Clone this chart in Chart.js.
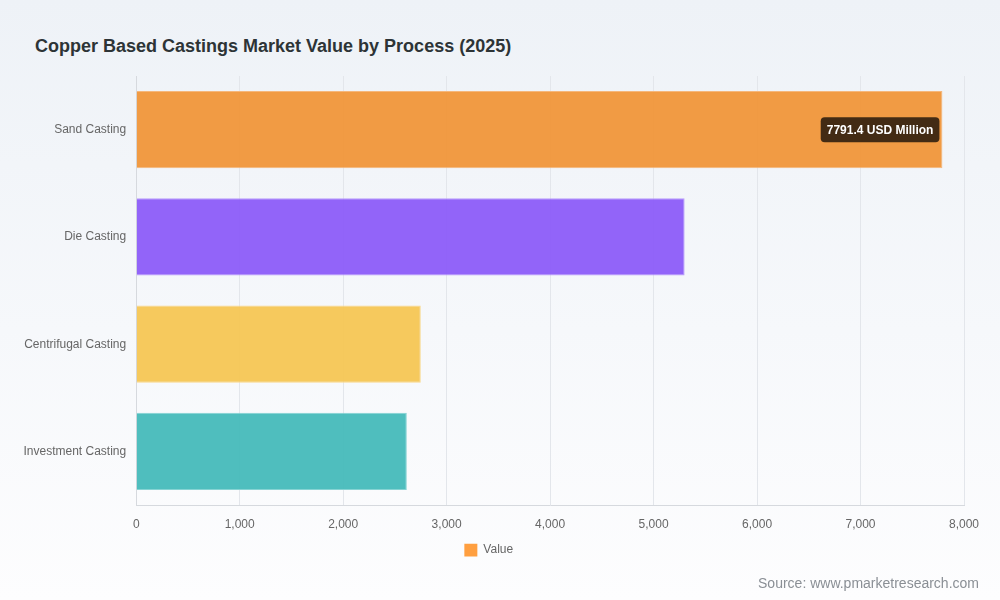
<!DOCTYPE html>
<html>
<head>
<meta charset="utf-8">
<script src="https://cdn.jsdelivr.net/npm/chart.js@4.4.1/dist/chart.umd.min.js"></script>
<style>
  html, body { margin: 0; padding: 0; }
  body {
    width: 1000px;
    height: 600px;
    position: relative;
    overflow: hidden;
    background: linear-gradient(180deg, #eef2f7 0%, #f6f8fb 55%, #fdfdfe 100%);
    font-family: "Liberation Sans", Arial, sans-serif;
  }
  #title {
    position: absolute;
    left: 35px;
    top: 36px;
    font-size: 18px;
    font-weight: bold;
    color: #2d3436;
  }
  #source {
    position: absolute;
    right: 21px;
    top: 575px;
    font-size: 14px;
    color: #8a8f95;
  }
  #wrap { position: absolute; left: 0; top: 0; width: 1000px; height: 600px; }
</style>
</head>
<body>
<div id="title">Copper Based Castings Market Value by Process (2025)</div>
<div id="wrap"><canvas id="chart"></canvas></div>
<div id="source">Source: www.pmarketresearch.com</div>
<script>
// categories and values (USD Million)
const processes = ["Sand Casting", "Die Casting", "Centrifugal Casting", "Investment Casting"];
const marketValues = [7791.4, 5300, 2750, 2615];
const xTicks = [0, 1000, 2000, 3000, 4000, 5000, 6000, 7000, 8000];

const barColors = ["rgba(240,150,58,0.95)", "rgba(140,92,249,0.95)", "rgba(246,198,84,0.95)", "rgba(70,186,186,0.95)"];
const barBorders = ["#f5b77c", "#b99cfb", "#f9d88a", "#86d3d3"];

// label on the largest bar, drawn at the element position
const valueLabel = {
  id: "valueLabel",
  afterDatasetsDraw(chart) {
    const meta = chart.getDatasetMeta(0);
    const data = chart.data.datasets[0].data;
    const maxIdx = data.indexOf(Math.max(...data));
    const bar = meta.data[maxIdx];
    if (!bar) return;
    const ctx = chart.ctx;
    const text = data[maxIdx] + " USD Million";
    ctx.save();
    ctx.font = "bold 12px 'Liberation Sans', Arial, sans-serif";
    const w = ctx.measureText(text).width + 12;
    const h = 25;
    const right = bar.x - 3;
    const left = right - w;
    const top = bar.y - h / 2;
    ctx.fillStyle = "rgba(58,38,18,0.95)";
    ctx.beginPath();
    ctx.roundRect(left, top, w, h, 4);
    ctx.fill();
    ctx.fillStyle = "#ffffff";
    ctx.textBaseline = "middle";
    ctx.textAlign = "left";
    ctx.fillText(text, left + 6, bar.y + 1);
    ctx.restore();
  },
};

new Chart(document.getElementById("chart"), {
  type: "bar",
  data: {
    labels: processes,
    datasets: [
      {
        label: "Value",
        data: marketValues,
        backgroundColor: barColors,
        borderColor: barBorders,
        borderWidth: 1,
      },
    ],
  },
  options: {
    indexAxis: "y",
    responsive: true,
    maintainAspectRatio: false,
    animation: false,
    layout: {
      padding: { top: 76, right: 36, bottom: 33.5, left: 13.5 },
    },
    plugins: {
      title: { display: false },
      tooltip: { enabled: false },
      legend: {
        display: true,
        position: "bottom",
        labels: {
          boxWidth: 13,
          boxHeight: 13,
          padding: 0,
          color: "#666",
          font: { family: "'Liberation Sans', Arial, sans-serif", size: 12 },
          generateLabels: () => [
            {
              text: "Value",
              fillStyle: "#ff9f40",
              strokeStyle: "#ff9f40",
              fontColor: "#666",
              lineWidth: 0,
              datasetIndex: 0,
            },
          ],
        },
      },
    },
    scales: {
      x: {
        min: 0,
        max: 8000,
        afterBuildTicks: (axis) => {
          axis.ticks = xTicks.map((v) => ({ value: v }));
        },
        grid: { color: "#e3e6eb", drawTicks: false },
        border: { color: "#d6d9de" },
        ticks: {
          padding: 12,
          color: "#666",
          font: { family: "'Liberation Sans', Arial, sans-serif", size: 12 },
          callback: (v) => v.toLocaleString("en-US"),
        },
      },
      y: {
        grid: { display: false, drawTicks: false },
        border: { display: true, color: "#d6d9de" },
        ticks: {
          padding: 10,
          color: "#666",
          font: { family: "'Liberation Sans', Arial, sans-serif", size: 12 },
        },
      },
    },
  },
  plugins: [valueLabel],
});
</script>
</body>
</html>
